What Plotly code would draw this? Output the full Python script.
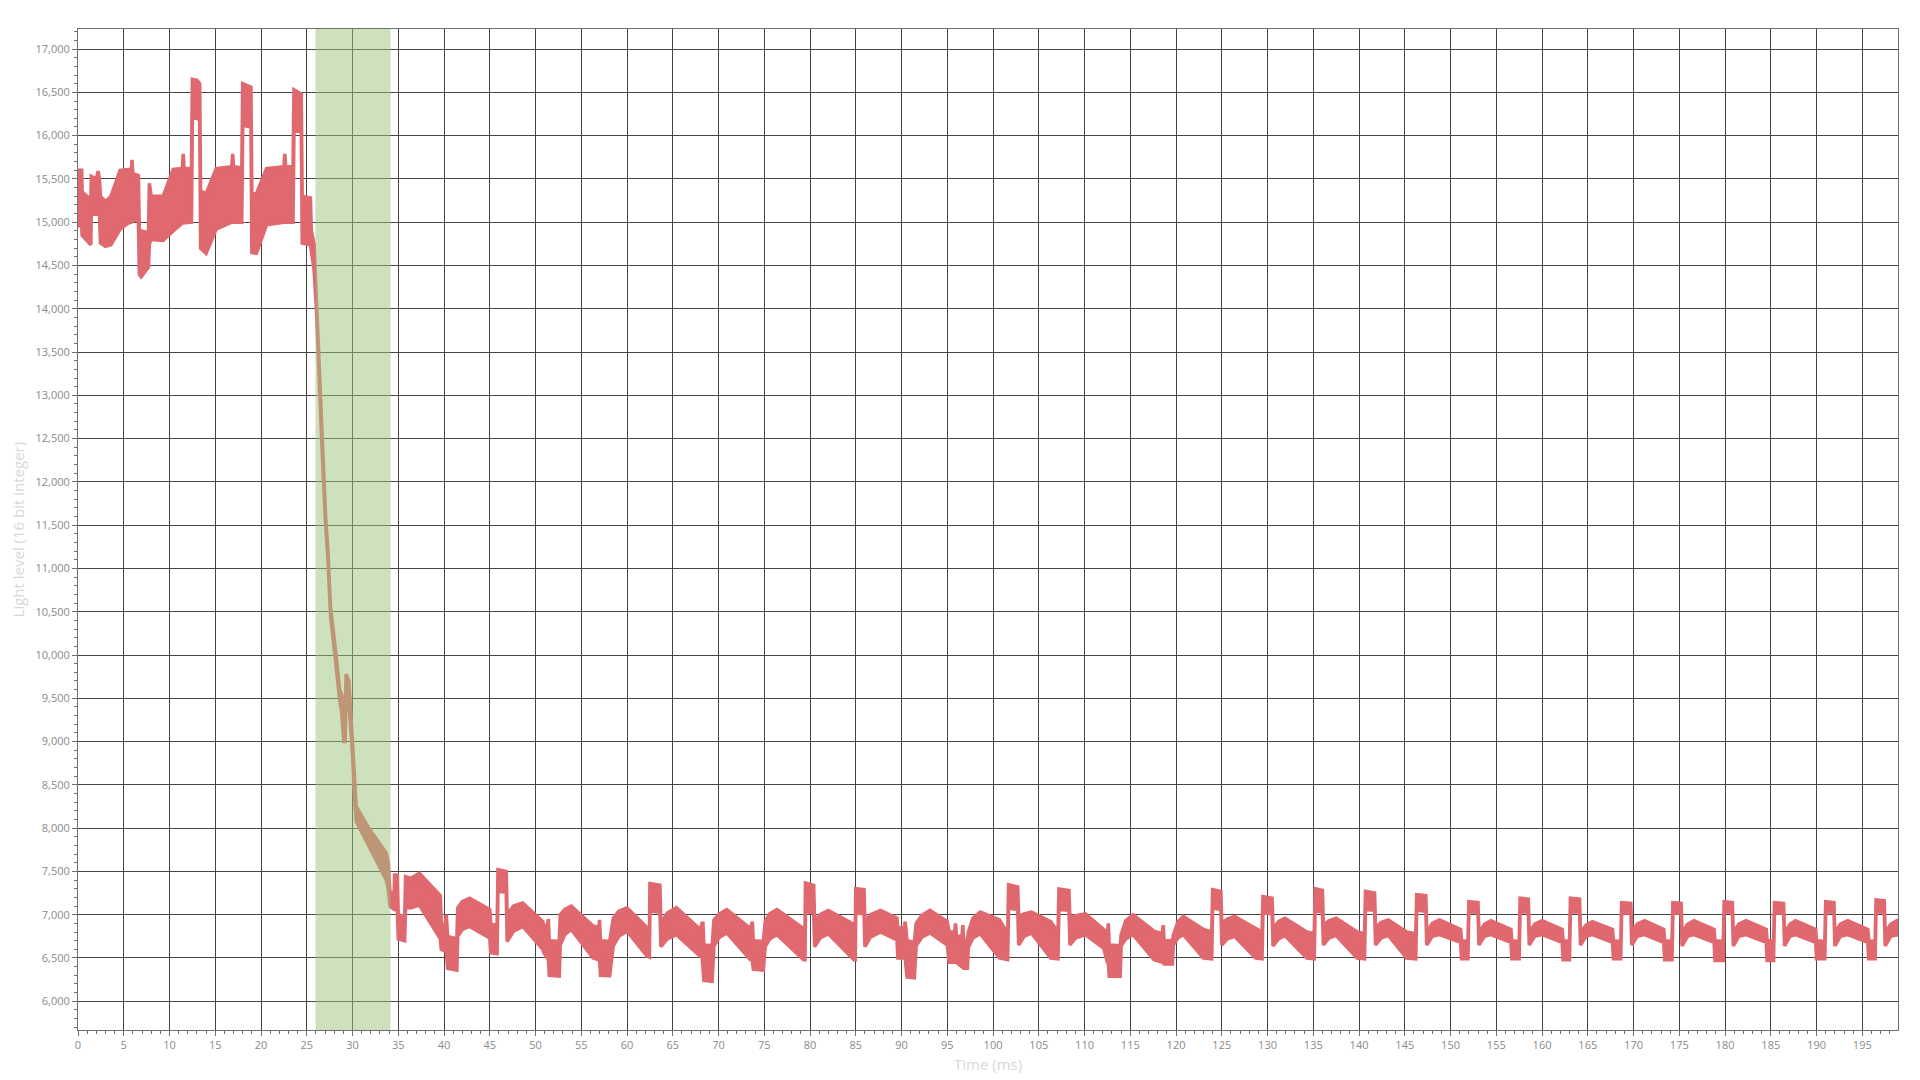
import plotly.graph_objects as go

# ---- data (upper / lower envelope of the dense light-level signal) ----
time_ms = [
    0.0, 0.4, 0.45, 1.4, 1.45, 2.0, 2.2, 2.35, 2.45, 3.0,
    3.6, 4.6, 5.5, 5.85, 5.9, 6.0, 6.6, 6.7, 6.9, 7.7,
    7.8, 8.0, 9.3, 10.4, 11.4, 11.5, 11.6, 12.4, 12.5, 13.0,
    13.3, 13.4, 14.0, 15.1, 16.8, 16.9, 17.0, 17.9, 18.0, 18.9,
    19.0, 19.5, 20.6, 22.5, 22.6, 22.7, 23.5, 23.6, 24.4, 24.5,
    25.4, 25.5, 25.8, 26.05, 26.2, 26.45, 26.7, 27.05, 27.3, 27.6,
    28.1, 28.6, 28.8, 29.05, 29.2, 29.3, 29.6, 30.0, 30.2, 30.4,
    31.9, 33.7, 33.9, 34.1, 34.55, 34.6, 34.9, 35.0, 35.7, 35.8,
    36.4, 37.3, 39.6, 39.7, 40.1, 40.25, 40.4, 41.4, 41.5, 42.0,
    42.8, 45.0, 45.1, 45.8, 45.9, 46.8, 46.9, 47.6, 48.6, 50.8,
    50.9, 51.3, 51.4, 51.5, 52.6, 52.7, 53.2, 53.9, 56.3, 56.9,
    57.0, 57.1, 58.1, 58.5, 59.1, 60.0, 62.2, 62.45, 62.5, 63.6,
    63.7, 64.4, 65.4, 68.0, 68.2, 68.3, 68.4, 69.3, 69.5, 70.1,
    70.9, 73.5, 73.7, 73.8, 74.9, 75.1, 75.6, 76.4, 79.3, 79.45,
    79.5, 80.4, 80.5, 81.1, 82.0, 84.8, 84.95, 85.0, 85.9, 86.0,
    86.6, 87.7, 89.5, 89.6, 90.3, 90.4, 90.6, 91.4, 91.6, 92.2,
    93.1, 95.0, 95.2, 95.8, 95.9, 96.0, 96.6, 96.7, 96.8, 97.2,
    97.3, 97.8, 98.6, 100.7, 101.6, 101.7, 102.7, 102.8, 103.4, 104.2,
    106.3, 107.1, 107.2, 108.3, 108.4, 109.0, 110.1, 112.1, 112.5, 112.6,
    112.7, 113.9, 114.0, 114.5, 115.3, 117.6, 118.5, 118.6, 118.7, 119.6,
    119.7, 120.2, 120.8, 123.0, 123.9, 124.0, 124.9, 125.0, 125.6, 126.4,
    128.7, 129.4, 129.5, 130.5, 130.6, 131.2, 131.9, 134.3, 135.1, 135.2,
    136.0, 136.1, 136.7, 137.5, 139.8, 140.6, 140.7, 141.7, 141.8, 142.4,
    143.2, 145.2, 146.2, 146.3, 147.3, 147.4, 148.0, 148.8, 151.1, 151.2,
    151.9, 152.0, 153.0, 153.1, 153.7, 154.4, 156.6, 156.7, 157.5, 157.6,
    158.5, 158.6, 159.2, 160.0, 162.2, 162.3, 163.0, 163.1, 164.1, 164.2,
    164.8, 165.5, 167.7, 167.8, 168.6, 168.7, 169.7, 169.8, 170.4, 171.2,
    173.3, 173.4, 174.2, 174.3, 175.2, 175.3, 175.9, 176.6, 178.8, 178.9,
    179.8, 179.9, 180.8, 180.9, 181.5, 182.3, 184.5, 184.6, 185.3, 185.4,
    186.4, 186.5, 187.1, 187.7, 189.9, 190.0, 190.9, 191.0, 191.9, 192.0,
    192.6, 193.4, 195.6, 195.7, 196.4, 196.5, 197.4, 197.5, 198.1, 198.9,
]

upper = [
    15600, 15600, 15350, 15260, 15530, 15500, 15590, 15490, 15300, 15240,
    15300, 15600, 15610, 15610, 15720, 15560, 15540, 14920, 14900, 14880,
    15450, 15300, 15300, 15610, 15620, 15790, 15620, 15620, 16650, 16640,
    16600, 15360, 15330, 15620, 15640, 15790, 15640, 15630, 16600, 16560,
    15330, 15330, 15620, 15640, 15790, 15640, 15640, 16530, 16480, 15300,
    15280, 14900, 14750, 14150, 13700, 13150, 12400, 11620, 11230, 10550,
    10100, 9600, 9550, 9350, 9300, 9780, 9700, 9000, 8550, 8250,
    7980, 7710, 7600, 7250, 7250, 7460, 7460, 7000, 6980, 7440,
    7420, 7480, 7220, 6900, 6880, 7000, 6750, 6720, 7080, 7150,
    7190, 7060, 6900, 6880, 7520, 7500, 7000, 7100, 7135, 6920,
    6880, 6870, 6950, 6700, 6690, 7000, 7060, 7100, 6870, 6850,
    6940, 6700, 6690, 6960, 7040, 7080, 6850, 6840, 7360, 7340,
    6900, 7020, 7080, 6830, 6900, 6900, 6650, 6640, 6940, 7010,
    7060, 6840, 6920, 6700, 6690, 6920, 7010, 7060, 6840, 6840,
    7365, 7340, 6920, 7000, 7050, 6880, 6880, 7300, 7290, 6920,
    7000, 7050, 6960, 6850, 6850, 6920, 6700, 6680, 6900, 6990,
    7050, 6920, 6800, 6800, 6900, 6750, 6750, 6880, 6700, 6700,
    6800, 6960, 7030, 6940, 6780, 7346, 7320, 6980, 7010, 7030,
    6920, 6800, 7296, 7280, 6960, 6990, 7010, 6830, 6780, 6900,
    6650, 6640, 6770, 6930, 7000, 6810, 6780, 6880, 6700, 6700,
    6760, 6920, 6980, 6830, 6800, 7290, 7270, 6900, 6950, 6980,
    6840, 6800, 7210, 7190, 6840, 6920, 6960, 6800, 6780, 7300,
    7280, 6880, 6930, 6960, 6800, 6780, 7270, 7250, 6850, 6910,
    6940, 6800, 6780, 7230, 7220, 6790, 6900, 6940, 6830, 6700,
    6690, 7150, 7140, 6790, 6890, 6930, 6830, 6700, 6690, 7190,
    7180, 6790, 6890, 6930, 6830, 6700, 6690, 7190, 7180, 6790,
    6880, 6920, 6830, 6700, 6690, 7140, 7130, 6790, 6890, 6930,
    6830, 6700, 6690, 7140, 7130, 6790, 6890, 6930, 6830, 6700,
    6690, 7150, 7140, 6790, 6890, 6930, 6830, 6700, 6690, 7140,
    7130, 6790, 6890, 6930, 6830, 6700, 6690, 7150, 7140, 6790,
    6890, 6930, 6830, 6700, 6690, 7170, 7160, 6790, 6890, 6940,
]

lower = [
    14960, 14960, 14850, 14740, 15100, 15090, 15090, 15080, 14760, 14720,
    14740, 14920, 14990, 15000, 15000, 15020, 15020, 14400, 14370, 14480,
    14750, 14800, 14790, 14900, 14990, 14990, 14990, 15000, 16200, 16200,
    16180, 14700, 14640, 14920, 15000, 15000, 15000, 15000, 16120, 16100,
    14650, 14640, 14970, 15000, 15000, 15000, 15000, 16050, 16050, 14760,
    14740, 14700, 14450, 14000, 13600, 13050, 12300, 11520, 11130, 10450,
    9980, 9480, 9350, 9000, 9000, 9600, 9450, 8850, 8400, 8080,
    7780, 7400, 7300, 7100, 7060, 7060, 7050, 6720, 6700, 7080,
    7080, 7110, 6720, 6600, 6580, 6580, 6380, 6360, 6750, 6830,
    6865, 6730, 6560, 6550, 7270, 7260, 6690, 6810, 6865, 6600,
    6560, 6500, 6500, 6300, 6290, 6650, 6770, 6830, 6500, 6480,
    6480, 6300, 6295, 6640, 6750, 6810, 6520, 6510, 7040, 7030,
    6630, 6720, 6770, 6520, 6520, 6450, 6240, 6230, 6640, 6740,
    6790, 6480, 6470, 6370, 6360, 6630, 6720, 6770, 6480, 6480,
    7040, 7020, 6630, 6730, 6780, 6480, 6480, 7020, 7010, 6630,
    6740, 6800, 6710, 6500, 6500, 6500, 6280, 6270, 6640, 6740,
    6790, 6650, 6450, 6450, 6450, 6450, 6400, 6400, 6380, 6380,
    6620, 6730, 6780, 6500, 6480, 7077, 7060, 6650, 6750, 6790,
    6500, 6490, 7060, 7050, 6650, 6730, 6770, 6610, 6450, 6450,
    6290, 6290, 6640, 6720, 6770, 6480, 6450, 6450, 6430, 6430,
    6650, 6730, 6770, 6500, 6490, 7080, 7060, 6650, 6720, 6750,
    6500, 6490, 7020, 7010, 6640, 6720, 6760, 6500, 6490, 7040,
    7030, 6650, 6730, 6760, 6500, 6490, 7060, 7050, 6650, 6730,
    6760, 6500, 6490, 7050, 7040, 6650, 6750, 6770, 6680, 6490,
    6490, 7035, 7030, 6650, 6750, 6770, 6680, 6490, 6490, 7035,
    7030, 6650, 6750, 6770, 6680, 6480, 6480, 7035, 7030, 6650,
    6750, 6770, 6680, 6490, 6490, 7020, 7020, 6650, 6750, 6770,
    6680, 6480, 6480, 7020, 7020, 6640, 6750, 6770, 6680, 6470,
    6470, 7035, 7030, 6640, 6750, 6770, 6680, 6470, 6470, 7020,
    7020, 6640, 6750, 6770, 6680, 6490, 6490, 7035, 7030, 6640,
    6750, 6770, 6680, 6490, 6490, 7035, 7030, 6640, 6750, 6770,
]

highlight_ms = [25.95, 34.15]       # shaded window
x_range = [0, 198.9]
y_range = [5668, 17232]
x_title = "Time (ms)"
y_title = "Light level (16 bit integer)"

assert len(time_ms) == len(upper) == len(lower)

RED = "#E0686F"
GRID = "#444444"
AXIS = "#707070"
TICKFONT = dict(family="Open Sans, Noto Sans, sans-serif", size=11, color="#8a8a8a")

poly_x = time_ms + time_ms[::-1]
poly_y = upper + lower[::-1]

fig = go.Figure()
fig.add_trace(go.Scatter(
    x=poly_x, y=poly_y, mode="lines", fill="toself",
    fillcolor=RED, line=dict(color=RED, width=3.5),
    hoverinfo="skip", showlegend=False,
))

fig.add_shape(
    type="rect", xref="x", yref="paper",
    x0=highlight_ms[0], x1=highlight_ms[1], y0=0, y1=1,
    fillcolor="rgba(155,195,123,0.5)", line=dict(width=0), layer="above",
)

common_axis = dict(
    showline=True, linecolor=AXIS, linewidth=1, mirror=True,
    showgrid=True, gridcolor=GRID, gridwidth=1, zeroline=False,
    ticks="outside", ticklen=5, tickcolor=AXIS, tickwidth=1,
    tickfont=TICKFONT,
)

fig.update_xaxes(
    range=x_range, dtick=5, tick0=0,
    minor=dict(dtick=1, ticks="outside", ticklen=3, tickcolor=AXIS, showgrid=False),
    **common_axis,
)
fig.update_yaxes(
    range=y_range, dtick=500, tick0=0, tickformat=",d",
    minor=dict(dtick=100, ticks="outside", ticklen=3, tickcolor=AXIS, showgrid=False),
    **common_axis,
)

title_font = dict(family="Open Sans, Noto Sans, sans-serif", size=15, color="#d8d8d8")
fig.add_annotation(text=x_title, xref="paper", yref="paper", x=0.5, y=-0.034,
                   xanchor="center", yanchor="middle", showarrow=False, font=title_font)
fig.add_annotation(text=y_title, xref="paper", yref="paper", x=-0.033, y=0.5,
                   xanchor="center", yanchor="middle", textangle=-90, showarrow=False,
                   font=title_font)

fig.update_layout(
    width=1920, height=1080,
    margin=dict(l=78, r=22, t=29, b=50, pad=0),
    paper_bgcolor="white", plot_bgcolor="white",
    showlegend=False,
)

fig.write_html(
    "out.html",
    config={"displayModeBar": False},
    post_script="document.body.style.margin='0';document.body.style.overflow='hidden';",
)
